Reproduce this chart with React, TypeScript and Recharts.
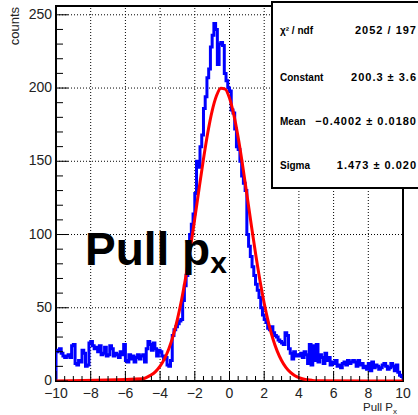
import React from "react";
import {
  ComposedChart,
  Line,
  XAxis,
  YAxis,
  ReferenceLine,
  ReferenceArea,
} from "recharts";

// histogram: 200 bins of 0.1 from -10 to 10
const HIST_LO = -10;
const HIST_HI = 10;
const HIST_BIN = 0.1;
const histCounts = [
  20, 21, 22, 19, 17, 16, 17, 18, 16, 24,
  25, 12, 11, 14, 13, 21, 19, 10, 11, 26,
  27, 24, 22, 23, 20, 24, 18, 19, 23, 17,
  18, 24, 22, 17, 19, 18, 16, 20, 18, 25,
  14, 13, 18, 15, 17, 13, 16, 18, 15, 17,
  18, 13, 22, 27, 25, 21, 26, 22, 17, 21,
  20, 17, 15, 16, 11, 10, 14, 31, 35, 37,
  39, 41, 42, 55, 65, 72, 85, 100, 107, 114,
  128, 150, 146, 160, 168, 186, 194, 207, 213, 228,
  236, 244, 240, 216, 230, 231, 229, 210, 205, 200,
  198, 185, 183, 172, 160, 158, 150, 140, 135, 130,
  100, 92, 85, 78, 72, 66, 62, 57, 50, 45,
  42, 40, 36, 35, 37, 33, 31, 30, 28, 27,
  26, 25, 33, 31, 22, 19, 15, 20, 17, 18,
  17, 19, 16, 20, 18, 12, 25, 11, 24, 14,
  25, 13, 18, 16, 12, 19, 14, 16, 11, 13,
  12, 14, 10, 11, 9, 12, 13, 11, 14, 12,
  13, 14, 13, 10, 14, 11, 12, 9, 10, 8,
  12, 7, 13, 9, 11, 10, 8, 9, 11, 12,
  10, 8, 9, 12, 10, 7, 11, 6, 4, 3,
];

// gaussian fit curve, sampled
const fitX = [
  -10, -5, -4.75, -4.5, -4.25, -4, -3.75, -3.5, -3.25, -3, -2.75, -2.5, -2.25,
  -2, -1.75, -1.5, -1.25, -1, -0.75, -0.5, -0.25, 0, 0.25, 0.5, 0.75, 1, 1.25,
  1.5, 1.75, 2, 2.25, 2.5, 2.75, 3, 3.25, 3.5, 3.75, 4, 4.25, 4.5, 4.75, 5, 10,
];
const fitY = [
  0, 1.5, 2.6, 4.2, 6.6, 10.1, 15.1, 21.9, 30.8, 42.2, 56.1, 72.5, 91.0,
  111.0, 131.6, 151.5, 169.6, 184.4, 194.7, 199.8, 199.3, 193.1, 181.7, 166.2,
  147.7, 127.5, 107.0, 87.2, 69.0, 53.1, 39.7, 28.8, 20.4, 14.0, 9.3, 6.0, 3.8,
  2.3, 1.4, 0.8, 0.45, 0.25, 0,
];

const xMajor = [-10, -8, -6, -4, -2, 0, 2, 4, 6, 8, 10];
const xGrid = [-8, -6, -4, -2, 0, 2, 4, 6, 8];
const yMajor = [0, 50, 100, 150, 200, 250];
const yGrid = [50, 100, 150, 200, 250];
const Y_MAX = 256;

const statLabels = ["χ² / ndf", "Constant", "Mean", "Sigma"];
const statValues = ["2052 / 197", "200.3 ± 3.6", "−0.4002 ± 0.0180", "1.473 ± 0.020"];

const FONT = "'Liberation Sans', Arial, Helvetica, sans-serif";

const xTicks = Array.from({ length: 41 }, (_, i) => -10 + i * 0.5);
const yTicks = Array.from({ length: 26 }, (_, i) => i * 10);

const histData = [
  { x: HIST_LO, y: 0 },
  ...histCounts.map((c, i) => ({
    x: Math.round((HIST_LO + i * HIST_BIN) * 10) / 10,
    y: c,
  })),
  { x: HIST_HI, y: histCounts[histCounts.length - 1] },
  { x: HIST_HI, y: 0 },
];
const fitData = fitX.map((x, i) => ({ x, y: fitY[i] }));

const fmt = (v: number) => (v < 0 ? "−" + Math.abs(v) : String(v));

const XTick = (props: any) => {
  const { x, y, payload } = props;
  const major = xMajor.includes(payload.value);
  return (
    <g>
      <line x1={x} x2={x} y1={y} y2={y - (major ? 10 : 5)} stroke="#000" strokeWidth={1} />
      {major && (
        <text x={x} y={y + 17} textAnchor="middle" fontSize={14} fontFamily={FONT} fill="#222">
          {fmt(payload.value)}
        </text>
      )}
    </g>
  );
};

const YTick = (props: any) => {
  const { x, y, payload } = props;
  const major = yMajor.includes(payload.value);
  return (
    <g>
      <line x1={x} x2={x + (major ? 12 : 7)} y1={y} y2={y} stroke="#000" strokeWidth={1} />
      {major && (
        <text x={x - 4} y={y + 4} textAnchor="end" fontSize={14} fontFamily={FONT} fill="#222">
          {payload.value}
        </text>
      )}
    </g>
  );
};

const statRowY = [34, 81, 125, 169];

export default function App() {
  return (
    <div style={{ position: "absolute", left: 0, top: 0, width: 418, height: 415, background: "#fff", overflow: "hidden" }}>
      <ComposedChart
        width={418}
        height={415}
        margin={{ top: 6, right: 15, bottom: 0, left: 0 }}
      >
        <XAxis
          dataKey="x"
          type="number"
          domain={[-10, 10]}
          allowDataOverflow
          ticks={xTicks}
          interval={0}
          tick={<XTick />}
          tickLine={false}
          tickSize={0}
          tickMargin={0}
          axisLine={false}
          height={34}
        />
        <YAxis
          type="number"
          domain={[0, Y_MAX]}
          allowDataOverflow
          ticks={yTicks}
          interval={0}
          tick={<YTick />}
          tickLine={false}
          tickSize={0}
          tickMargin={0}
          axisLine={false}
          width={56}
        />
        {xGrid.map((v) => (
          <ReferenceLine key={"gx" + v} x={v} stroke="#000" strokeWidth={1} strokeDasharray="1 2" />
        ))}
        {yGrid.map((v) => (
          <ReferenceLine key={"gy" + v} y={v} stroke="#000" strokeWidth={1} strokeDasharray="1 2" />
        ))}
        <ReferenceArea x1={-10} x2={10} y1={0} y2={Y_MAX} fill="none" stroke="#000" strokeWidth={2} />
        <Line
          data={histData}
          dataKey="y"
          type="stepAfter"
          stroke="#0000ff"
          strokeWidth={3}
          dot={false}
          activeDot={false}
          isAnimationActive={false}
        />
        <Line
          data={fitData}
          dataKey="y"
          type="monotone"
          stroke="#ff0000"
          strokeWidth={3}
          dot={false}
          activeDot={false}
          isAnimationActive={false}
        />
      </ComposedChart>
      <svg
        width={418}
        height={415}
        style={{ position: "absolute", left: 0, top: 0, pointerEvents: "none" }}
        fontFamily={FONT}
      >
        <text transform="translate(19,7) rotate(-90)" textAnchor="end" fontSize={13} fill="#222">
          counts
        </text>
        <text x={363} y={411} fontSize={11.5} fill="#222">
          Pull P
          <tspan fontSize={8} dy={3}>x</tspan>
        </text>
        <text x={85} y={265} fontSize={46} fontWeight="bold" fill="#000">
          Pull p
          <tspan fontSize={30} dy={8}>x</tspan>
        </text>
        <rect x={272} y={2} width={160} height={186} fill="#fff" stroke="#000" strokeWidth={2} />
        {statLabels.map((lab, i) => (
          <g key={lab}>
            <text x={280} y={statRowY[i]} fontSize={10} fontWeight="bold" fill="#000">
              {lab}
            </text>
            <text
              x={417}
              y={statRowY[i]}
              textAnchor="end"
              fontSize={11}
              fontWeight="bold"
              letterSpacing={1}
              fill="#000"
            >
              {statValues[i]}
            </text>
          </g>
        ))}
      </svg>
    </div>
  );
}
